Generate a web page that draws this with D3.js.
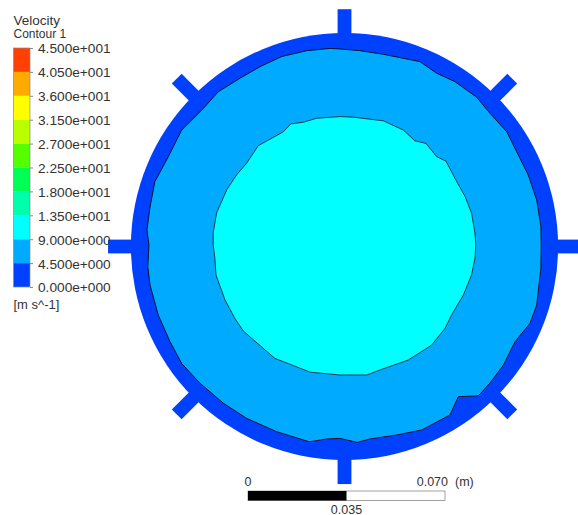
<!DOCTYPE html>
<html>
<head>
<meta charset="utf-8">
<script src="https://cdn.jsdelivr.net/npm/d3@7"></script>
<style>
body { margin: 0; background: #fff; }
svg { display: block; }
text { font-family: "Liberation Sans", Arial, sans-serif; fill: #333; }
</style>
</head>
<body>
<svg width="578" height="515"></svg>
<script>
// legend, band edges in m/s
var legendTicks = [0, 4.5, 9, 13.5, 18, 22.5, 27, 31.5, 36, 40.5, 45];
var legendLabels = ["0.000e+000", "4.500e+000", "9.000e+000", "1.350e+001", "1.800e+001",
	"2.250e+001", "2.700e+001", "3.150e+001", "3.600e+001", "4.050e+001", "4.500e+001"];
var legendColors = ["#0040ff", "#00aaff", "#00ffff", "#00ffaa", "#00ff55",
	"#55ff00", "#b9ff00", "#ffff00", "#ffaa00", "#ff4000"];

// pipe section in mm, measured from the pipe axis
var wallRadius = 75.8;
var finWidth = 4.9;
var finAngles = [0, 45, 90, 135, 180, 225, 270, 315];
var finTips = [82.9, 84.2, 84.2, 84.2, 83.9, 84.2, 84.3, 84.2];

// contour between 4.5 and 9 m/s
var outerContour = [[-69.4,0.5],[-70.1,5.9],[-69.0,14.1],[-67.3,23.0],[-62.5,31.9],[-57.8,41.3],
	[-50.1,49.0],[-44.8,54.9],[-37.1,59.7],[-30.0,63.8],[-22.3,67.4],[-13.4,69.5],[-5.1,70.3],
	[-1.6,70.1],[5.5,69.5],[13.8,68.2],[26.8,65.6],[32.7,61.5],[39.2,58.5],[46.9,53.0],[51.6,47.3],
	[57.6,40.7],[61.1,33.6],[65.2,25.4],[68.2,16.5],[69.7,7.0],[69.8,0.5],[69.7,-7.7],[68.2,-20.8],
	[65.8,-27.3],[60.5,-33.8],[56.4,-42.1],[51.6,-48.5],[47.5,-53.0],[40.4,-53.3],[37.4,-59.8],
	[27.4,-65.1],[18.5,-66.9],[9.0,-68.3],[4.5,-69.5],[-1.6,-68.1],[-6.3,-68.3],[-12.5,-69.3],
	[-24.1,-65.7],[-34.7,-61.0],[-43.0,-55.6],[-51.3,-48.5],[-57.8,-41.5],[-61.9,-33.8],
	[-66.1,-24.3],[-69.0,-13.7],[-69.8,-7.2]];

// contour between 9 and 13.5 m/s
var innerContour = [[-46.6,0.5],[-46.6,4.8],[-45.4,11.9],[-41.8,20.1],[-38.3,25.4],[-34.7,29.6],
	[-30.6,35.8],[-21.7,40.7],[-19.1,43.5],[-14.6,44.1],[-9.9,45.5],[-1.6,46.1],[3.1,45.9],[13.8,44.6],
	[20.9,41.3],[25.0,37.5],[28.9,36.6],[32.7,31.9],[36.0,30.3],[39.2,24.2],[42.8,17.7],[45.1,11.8],
	[46.3,4.7],[46.6,0.5],[46.3,-4.2],[45.1,-10.1],[42.2,-17.2],[38.0,-24.3],[35.7,-29.0],[30.9,-35.0],
	[22.6,-40.3],[12.6,-43.8],[7.9,-45.6],[-1.6,-45.6],[-12.2,-44.6],[-19.3,-41.8],[-24.7,-39.7],
	[-28.2,-36.7],[-35.9,-30.0],[-38.9,-25.5],[-42.4,-19.0],[-45.6,-10.1],[-46.0,-4.2]];

var scaleBarTicks = [0, 0.035, 0.07];
var scaleBarLabels = ["0", "0.035", "0.070"];

var svg = d3.select("svg");

// 1 mm is about 2.818 px in the picture
var x = d3.scaleLinear().domain([-100, 100]).range([62.7, 626.3]);
var y = d3.scaleLinear().domain([-100, 100]).range([528.3, -35.3]);
var len = function(d) { return x(d) - x(0); };

var contourLine = d3.line()
	.x(function(d) { return x(d[0]); })
	.y(function(d) { return y(d[1]); })
	.curve(d3.curveLinearClosed);

var plot = svg.append("g");

var wall = plot.append("g").attr("transform", "translate(" + x(0) + "," + y(0) + ")");
wall.selectAll("rect")
	.data(finAngles)
	.enter().append("rect")
	.attr("x", len(wallRadius - 2))
	.attr("y", -len(finWidth / 2))
	.attr("width", function(d, i) { return len(finTips[i] - wallRadius + 2); })
	.attr("height", len(finWidth))
	.attr("transform", function(d) { return "rotate(" + (-d) + ")"; })
	.attr("fill", legendColors[0]);
wall.append("circle")
	.attr("r", len(wallRadius))
	.attr("fill", legendColors[0]);

plot.append("path")
	.attr("d", contourLine(outerContour))
	.attr("fill", legendColors[1])
	.attr("stroke", "#06122a")
	.attr("stroke-width", 1);
plot.append("path")
	.attr("d", contourLine(innerContour))
	.attr("fill", legendColors[2])
	.attr("stroke", "#0b3f4c")
	.attr("stroke-width", 1);

// legend
var legendY = d3.scaleLinear().domain([0, 45]).range([287, 48]);
var legend = svg.append("g");
legend.append("text").attr("x", 13.5).attr("y", 25).attr("font-size", 13.5).text("Velocity");
legend.append("text").attr("x", 13.5).attr("y", 37.5).attr("font-size", 12).text("Contour 1");
legend.selectAll("rect.band")
	.data(legendColors)
	.enter().append("rect")
	.attr("class", "band")
	.attr("x", 13.5)
	.attr("width", 16.5)
	.attr("y", function(d, i) { return legendY(legendTicks[i + 1]); })
	.attr("height", function(d, i) { return legendY(legendTicks[i]) - legendY(legendTicks[i + 1]); })
	.attr("fill", function(d) { return d; });
legend.append("rect")
	.attr("x", 13.5).attr("y", legendY(45))
	.attr("width", 16.5).attr("height", legendY(0) - legendY(45))
	.attr("fill", "none").attr("stroke", "#8a8a8a").attr("stroke-width", 0.7);

var legendAxis = legend.append("g")
	.attr("transform", "translate(30,0)")
	.call(d3.axisRight(legendY)
		.tickValues(legendTicks)
		.tickSize(3)
		.tickPadding(5)
		.tickFormat(function(d, i) { return legendLabels[i]; }));
legendAxis.select(".domain").remove();
legendAxis.selectAll("line").attr("stroke", "#8a8a8a");
legendAxis.selectAll("text")
	.attr("font-family", null)
	.attr("font-size", 13.7)
	.attr("fill", "#333")
	.attr("dy", "0.36em");
legend.append("text").attr("x", 13.5).attr("y", 309).attr("font-size", 13).text("[m s^-1]");

// length scale bar
var barX = d3.scaleLinear().domain([0, 0.07]).range([248, 445]);
var bar = svg.append("g");
bar.append("rect")
	.attr("x", barX(0)).attr("y", 491)
	.attr("width", barX(0.07) - barX(0)).attr("height", 9.5)
	.attr("fill", "#fff").attr("stroke", "#8a8a8a").attr("stroke-width", 0.8);
bar.append("rect")
	.attr("x", barX(0)).attr("y", 491)
	.attr("width", barX(0.035) - barX(0)).attr("height", 9.5)
	.attr("fill", "#000");
bar.append("text").attr("x", barX(scaleBarTicks[0])).attr("y", 486)
	.attr("text-anchor", "middle").attr("font-size", 12.5).text(scaleBarLabels[0]);
bar.append("text").attr("x", barX(scaleBarTicks[1])).attr("y", 514)
	.attr("text-anchor", "middle").attr("font-size", 12.5).text(scaleBarLabels[1]);
bar.append("text").attr("x", barX(scaleBarTicks[2]) + 3).attr("y", 486)
	.attr("text-anchor", "end").attr("font-size", 12.5).text(scaleBarLabels[2]);
bar.append("text").attr("x", 455).attr("y", 486).attr("font-size", 12.5).text("(m)");
</script>
</body>
</html>
